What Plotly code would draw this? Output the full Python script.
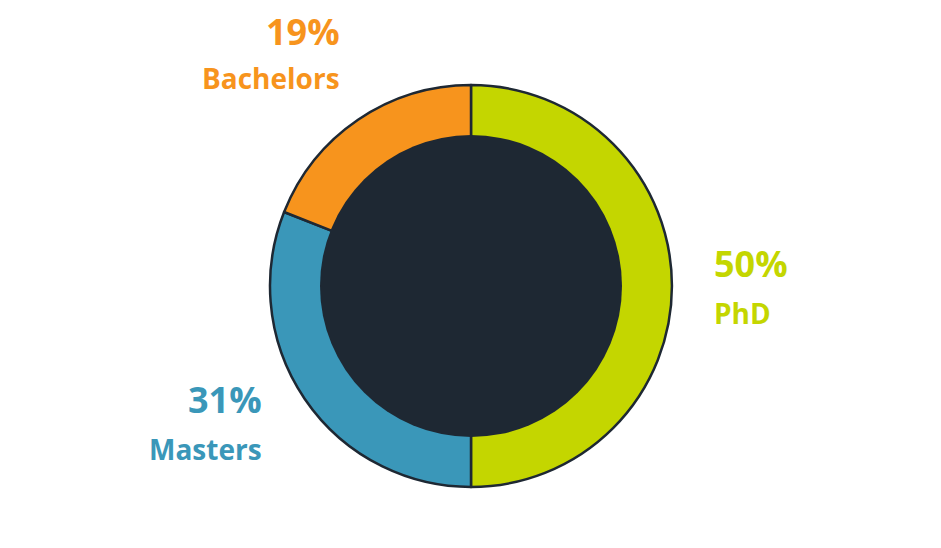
import plotly.graph_objects as go

categories = ["PhD", "Masters", "Bachelors"]
values = [50, 31, 19]
pct_labels = ["50%", "31%", "19%"]
colors = ["#C4D600", "#3A97B9", "#F7941D"]
dark = "#1E2833"

W, H = 941, 548
OFF = 8  # page body margin
cx, cy = 471 - OFF, 286 - OFF
r_out, r_in = 201, 151

def dom(r):
    return dict(x=[(cx - r) / W, (cx + r) / W], y=[(H - cy - r) / H, (H - cy + r) / H])

fig = go.Figure()
fig.add_trace(go.Pie(
    labels=categories, values=values, sort=False, direction="clockwise", rotation=0,
    hole=0.7, marker=dict(colors=colors, line=dict(color=dark, width=2.5)),
    textinfo="none", hoverinfo="label+percent", domain=dom(r_out), showlegend=False,
))
fig.add_trace(go.Pie(
    labels=["center"], values=[1], textinfo="none", hoverinfo="skip",
    marker=dict(colors=[dark], line=dict(color=dark, width=0)),
    domain=dom(r_in), showlegend=False,
))

# label positions (px): (x, y_pct, y_name, anchor)
label_pos = {
    "PhD": (712, 263, 313, "left"),
    "Masters": (264, 399, 449, "right"),
    "Bachelors": (342, 32, 78, "right"),
}
font_fam = "'Open Sans', Lato, sans-serif"
for cat, pct, col in zip(categories, pct_labels, colors):
    x, yp, yn, anc = label_pos[cat]
    x, yp, yn = x - OFF, yp - OFF, yn - OFF
    fig.add_annotation(x=x / W, y=1 - yp / H, xref="paper", yref="paper", text=f"<b>{pct}</b>",
                       showarrow=False, xanchor=anc, yanchor="middle",
                       font=dict(family=font_fam, size=36, color=col))
    fig.add_annotation(x=x / W, y=1 - yn / H, xref="paper", yref="paper", text=f"<b>{cat}</b>",
                       showarrow=False, xanchor=anc, yanchor="middle",
                       font=dict(family=font_fam, size=28, color=col))

fig.update_layout(width=W, height=H, margin=dict(l=0, r=0, t=0, b=0),
                  paper_bgcolor="white", plot_bgcolor="white")
fig.write_html("out.html")
